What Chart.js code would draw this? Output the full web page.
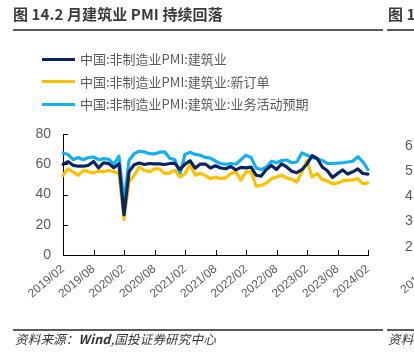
<!DOCTYPE html>
<html><head><meta charset="utf-8">
<script src="https://cdn.jsdelivr.net/npm/chart.js@4.4.1/dist/chart.umd.min.js"></script>
<style>
html,body{margin:0;padding:0;background:#fff;}
#wrap{position:relative;width:414px;height:354px;overflow:hidden;font-family:"Noto Sans CJK SC","Noto Sans",sans-serif;}
canvas{position:absolute;left:0;top:0;}
.t{position:absolute;white-space:nowrap;}
.hr{position:absolute;height:2px;background:#5a5a5a;}
.lg{position:absolute;left:42px;font-size:13px;color:#595959;line-height:22px;white-space:nowrap;}
.lg span{display:inline-block;width:33px;height:3px;vertical-align:middle;margin-right:5px;position:relative;top:-1px;}
</style></head><body>
<div id="wrap">
<canvas id="c" width="414" height="354"></canvas>
<div class="t" style="left:13px;top:4px;font-size:15px;line-height:20px;font-weight:bold;color:#3a3a3a;letter-spacing:0.1px">图 14.2 月建筑业 PMI 持续回落</div>
<div class="t" style="left:388px;top:4px;font-size:15px;line-height:20px;font-weight:bold;color:#3a3a3a;">图 1</div>
<div class="hr" style="left:13px;top:29px;width:370px;"></div>
<div class="hr" style="left:387px;top:29px;width:30px;"></div>
<div id="legend"></div>
<div class="hr" style="left:13px;top:329px;width:370px;"></div>
<div class="hr" style="left:387px;top:329px;width:30px;"></div>
<div class="t" style="left:15px;top:330px;font-size:12.5px;line-height:18px;font-style:italic;color:#333;letter-spacing:0.2px">资料来源：<b>Wind</b>,国投证券研究中心</div>
<div class="t" style="left:388px;top:330px;font-size:12.5px;line-height:18px;font-style:italic;color:#333;letter-spacing:0.2px">资料</div>
<div class="t" style="left:405px;top:136px;font-size:14px;line-height:18px;color:#595959;font-family:'Liberation Sans',Arial">6</div>
<div class="t" style="left:405px;top:161px;font-size:14px;line-height:18px;color:#595959;font-family:'Liberation Sans',Arial">5</div>
<div class="t" style="left:405px;top:186px;font-size:14px;line-height:18px;color:#595959;font-family:'Liberation Sans',Arial">4</div>
<div class="t" style="left:405px;top:211px;font-size:14px;line-height:18px;color:#595959;font-family:'Liberation Sans',Arial">3</div>
<div class="t" style="left:405px;top:237px;font-size:14px;line-height:18px;color:#595959;font-family:'Liberation Sans',Arial">2</div>
<div class="t" style="left:402px;top:284px;font-size:12px;line-height:14px;color:#595959;font-family:'Liberation Sans',Arial;transform-origin:left center;transform:rotate(-40deg)">2019/02</div>
</div>
<script>
const months = [
 '2019/02','2019/03','2019/04','2019/05','2019/06','2019/07','2019/08','2019/09','2019/10','2019/11','2019/12',
 '2020/01','2020/02','2020/03','2020/04','2020/05','2020/06','2020/07','2020/08','2020/09','2020/10','2020/11','2020/12',
 '2021/01','2021/02','2021/03','2021/04','2021/05','2021/06','2021/07','2021/08','2021/09','2021/10','2021/11','2021/12',
 '2022/01','2022/02','2022/03','2022/04','2022/05','2022/06','2022/07','2022/08','2022/09','2022/10','2022/11','2022/12',
 '2023/01','2023/02','2023/03','2023/04','2023/05','2023/06','2023/07','2023/08','2023/09','2023/10','2023/11','2023/12',
 '2024/01','2024/02'];
const tickLabels = ['2019/02','2019/08','2020/02','2020/08','2021/02','2021/08','2022/02','2022/08','2023/02','2023/08','2024/02'];
const yTicks = [0,20,40,60,80];
const seriesNames = ['中国:非制造业PMI:建筑业','中国:非制造业PMI:建筑业:新订单','中国:非制造业PMI:建筑业:业务活动预期'];
const seriesColors = ['#0a2463','#FFC000','#12B0EE'];
const pmiConstruction = [
 60.0,61.7,59.3,58.7,58.7,59.3,61.8,57.6,61.0,60.4,57.6,
 60.4,26.6,55.1,59.7,60.8,59.8,60.5,60.2,60.2,59.8,60.5,60.7,
 56.5,60.1,62.3,57.4,60.1,60.1,57.5,59.0,57.5,57.0,58.5,56.3,
 57.9,57.6,58.1,52.7,52.2,56.6,59.2,56.5,60.2,58.2,55.4,54.4,
 56.4,60.2,65.6,63.9,58.2,55.7,51.2,53.8,56.2,53.5,55.0,56.9,
 53.9,53.5];
const newOrders = [
 52.7,57.0,55.0,52.7,56.0,55.0,54.3,55.6,55.0,56.0,55.0,
 54.0,23.5,48.4,52.7,58.2,56.0,55.0,57.0,57.0,53.8,54.3,56.0,
 51.6,53.8,60.0,52.7,54.0,52.5,50.5,51.5,50.5,51.0,53.8,55.0,
 49.5,55.0,55.0,45.5,46.0,47.5,50.5,51.5,52.7,51.0,50.0,48.3,
 55.0,62.5,51.6,53.8,50.0,49.0,47.0,47.5,49.0,49.5,49.5,50.5,
 47.0,47.7];
const expectations = [
 67.5,66.4,63.0,64.4,63.0,64.4,64.8,63.0,63.7,63.3,60.0,
 65.3,35.0,62.6,67.0,68.6,68.2,67.0,66.8,68.0,68.2,64.0,63.0,
 53.5,66.5,68.0,66.5,66.0,64.5,64.0,62.0,60.5,60.0,60.5,60.0,
 63.0,66.0,64.5,57.5,56.5,58.0,62.0,61.0,62.5,62.8,61.0,61.5,
 67.5,66.0,64.5,63.5,62.5,60.5,60.5,60.8,61.0,61.5,62.0,65.0,
 61.5,56.5];

const seriesData = [pmiConstruction, newOrders, expectations];

// HTML legend
const lg = document.getElementById('legend');
seriesNames.forEach((n,i)=>{
  const d = document.createElement('div');
  d.className='lg';
  d.style.top = (48 + i*22.5) + 'px';
  d.innerHTML = '<span style="background:'+seriesColors[i]+'"></span>' + n;
  lg.appendChild(d);
});

const innerTicks = {
  id:'innerTicks',
  afterDraw(chart){
    const {ctx, scales:{x,y}, chartArea:a} = chart;
    ctx.save(); ctx.strokeStyle='#000'; ctx.lineWidth=1; ctx.beginPath();
    months.forEach((m,i)=>{ if(tickLabels.includes(m)){ const px=Math.round(x.getPixelForValue(i))+0.5; ctx.moveTo(px,a.bottom); ctx.lineTo(px,a.bottom-5);} });
    yTicks.forEach(v=>{ const py=Math.round(y.getPixelForValue(v))+0.5; ctx.moveTo(a.left,py); ctx.lineTo(a.left+5,py); });
    ctx.stroke(); ctx.restore();
  }
};

new Chart(document.getElementById('c'), {
  type:'line',
  data:{
    labels: months,
    datasets: seriesNames.map((n,i)=>({
      label:n, data:seriesData[i], borderColor:seriesColors[i], backgroundColor:seriesColors[i],
      borderWidth:3.2, pointRadius:0, tension:0, borderJoinStyle:'round', borderCapStyle:'round', fill:false
    }))
  },
  options:{
    responsive:false, animation:false, devicePixelRatio:1,
    layout:{padding:{left:0,right:46,top:134,bottom:54}},
    plugins:{legend:{display:false}, tooltip:{enabled:false}},
    scales:{
      x:{
        type:'category', offset:false,
        grid:{display:false, drawTicks:false},
        border:{display:true,color:'#000',width:1},
        ticks:{autoSkip:false, minRotation:40, maxRotation:40, padding:7,
          color:'#595959', font:{family:"'Liberation Sans', Arial", size:12},
          callback:(v,i)=> tickLabels.includes(months[i]) ? months[i] : null},
        afterFit:(s)=>{ s.height = 45; }
      },
      y:{
        min:0, max:80,
        grid:{display:false, drawTicks:false},
        border:{display:true,color:'#000',width:1},
        ticks:{stepSize:20, padding:12, color:'#595959', font:{family:"'Liberation Sans', Arial", size:14}},
        afterFit:(s)=>{ s.width = 63; }
      }
    }
  },
  plugins:[innerTicks]
});
</script>
</body></html>
